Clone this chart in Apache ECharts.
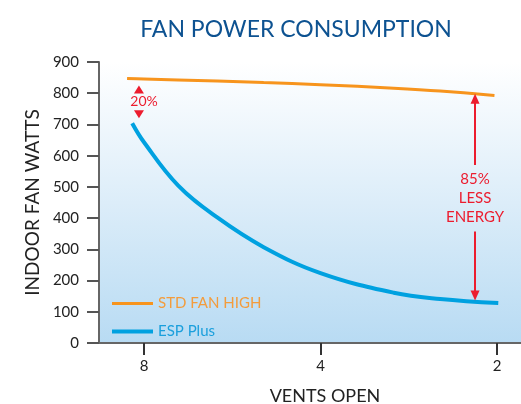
<!DOCTYPE html>
<html>
<head>
<meta charset="utf-8">
<script src="https://cdn.jsdelivr.net/npm/echarts@6/dist/echarts.min.js"></script>
<style>
  html, body { margin: 0; padding: 0; background: #fff; }
  #chart { width: 521px; height: 404px; }
</style>
</head>
<body>
<div id="chart"></div>
<script>
// vents open (x) and fan watts (y)
const stdVents = [8.55, 8, 7, 6, 5, 4, 3, 2.5, 2.02]
const stdWatts = [847, 845.5, 842.5, 839, 834, 827.5, 816, 807, 793]
const espVents = [8.38, 8, 7, 6, 5, 4, 3, 2.5, 1.99]
const espWatts = [704, 643, 505, 402, 307, 224, 161, 141, 128]

const ventTicks = [8, 4, 2]
const yTicks = { min: 0, max: 900, interval: 100 }

// annotations: [vents, watts]
const pctLabel = [8, 772]
const pctUp = [8.16, 812]
const pctDown = [8.16, 733]
const lessLabel = [2.18, 464]
const lessUp = [[2.18, 570], [2.18, 782]]
const lessDown = [[2.18, 357], [2.18, 152]]

const red = '#ec1c2e'
const orange = '#f7941d'
const blue = '#00a1e0'
const font = 'Lato'

const lg = (v) => Math.log2(v)
const toPts = (xs, ys) => xs.map((x, i) => [lg(x), ys[i]])
const at = (p) => [lg(p[0]), p[1]]

const chart = echarts.init(document.getElementById('chart'))
chart.setOption({
  animation: false,
  textStyle: { fontFamily: font },
  title: {
    text: 'FAN POWER CONSUMPTION',
    left: 291,
    top: 13,
    textAlign: 'center',
    textStyle: { color: '#0d5291', fontSize: 23, fontWeight: 'normal', fontFamily: font },
  },
  legend: {
    orient: 'vertical',
    left: 107,
    top: 291,
    itemWidth: 41,
    itemHeight: 14,
    itemGap: 13,
    data: [
      { name: 'STD FAN HIGH', icon: 'path://M0,0H40V3H0Z', textStyle: { color: '#f39c3c' } },
      { name: 'ESP Plus', icon: 'path://M0,0H40V4H0Z', textStyle: { color: '#1a9fdc' } },
    ],
    textStyle: { fontSize: 15, fontFamily: font },
  },
  grid: {
    left: 99,
    right: 0,
    top: 62,
    bottom: 61,
    outerBoundsMode: 'none',
    show: true,
    borderWidth: 0,
    backgroundColor: {
      type: 'linear', x: 0, y: 0, x2: 0, y2: 1,
      colorStops: [
        { offset: 0, color: '#ffffff' },
        { offset: 0.5, color: '#dcedf9' },
        { offset: 1, color: '#b8dbf3' },
      ],
    },
  },
  xAxis: {
    type: 'value',
    inverse: true,
    min: 0.864,
    max: 3.255,
    name: 'VENTS OPEN',
    nameLocation: 'middle',
    nameGap: 44,
    nameTextStyle: { color: '#222', fontSize: 18, fontFamily: font, padding: [0, 0, 0, 30] },
    axisLine: { lineStyle: { color: '#666', width: 2 } },
    axisTick: {
      length: 12,
      customValues: ventTicks.map(lg),
      lineStyle: { color: '#333', width: 2 },
    },
    axisLabel: {
      customValues: ventTicks.map(lg),
      formatter: (v) => String(Math.round(Math.pow(2, v))),
      color: '#222',
      fontSize: 15,
      margin: 16,
    },
    splitLine: { show: false },
  },
  yAxis: {
    type: 'value',
    min: yTicks.min,
    max: yTicks.max,
    interval: yTicks.interval,
    name: 'INDOOR FAN WATTS',
    nameLocation: 'middle',
    nameGap: 57,
    nameTextStyle: { color: '#222', fontSize: 19, fontFamily: font },
    axisLine: { show: true, lineStyle: { color: '#666', width: 2 } },
    axisTick: { show: true, length: 12, lineStyle: { color: '#555', width: 2 } },
    axisLabel: { color: '#222', fontSize: 15, margin: 20 },
    splitLine: { show: false },
  },
  series: [
    {
      name: 'STD FAN HIGH',
      type: 'line',
      smooth: 0.3,
      symbol: 'none',
      lineStyle: { color: orange, width: 3 },
      itemStyle: { color: orange },
      data: toPts(stdVents, stdWatts),
      markPoint: {
        silent: true,
        data: [
          {
            coord: at(pctUp), symbol: 'triangle', symbolSize: [10, 8],
            itemStyle: { color: red }, label: { show: false },
          },
          {
            coord: at(pctDown), symbol: 'triangle', symbolSize: [10, 8], symbolRotate: 180,
            itemStyle: { color: red }, label: { show: false },
          },
          {
            coord: at(pctLabel), symbol: 'rect', symbolSize: 1,
            itemStyle: { color: 'rgba(0,0,0,0)' },
            label: { show: true, position: 'inside', formatter: '20%', color: red, fontSize: 14, fontFamily: font },
          },
          {
            coord: at(lessLabel), symbol: 'rect', symbolSize: 1,
            itemStyle: { color: 'rgba(0,0,0,0)' },
            label: {
              show: true, position: 'inside', formatter: '85%\nLESS\nENERGY',
              color: red, fontSize: 15, lineHeight: 19, fontFamily: font, align: 'center',
            },
          },
        ],
      },
      markLine: {
        silent: true,
        symbol: ['none', 'triangle'],
        symbolSize: [9, 10],
        label: { show: false },
        lineStyle: { color: red, width: 2, type: 'solid' },
        data: [
          [{ coord: at(lessUp[0]) }, { coord: at(lessUp[1]) }],
          [{ coord: at(lessDown[0]) }, { coord: at(lessDown[1]) }],
        ],
      },
    },
    {
      name: 'ESP Plus',
      type: 'line',
      smooth: 0.4,
      symbol: 'none',
      lineStyle: { color: blue, width: 4 },
      itemStyle: { color: blue },
      data: toPts(espVents, espWatts),
    },
  ],
})
</script>
</body>
</html>
